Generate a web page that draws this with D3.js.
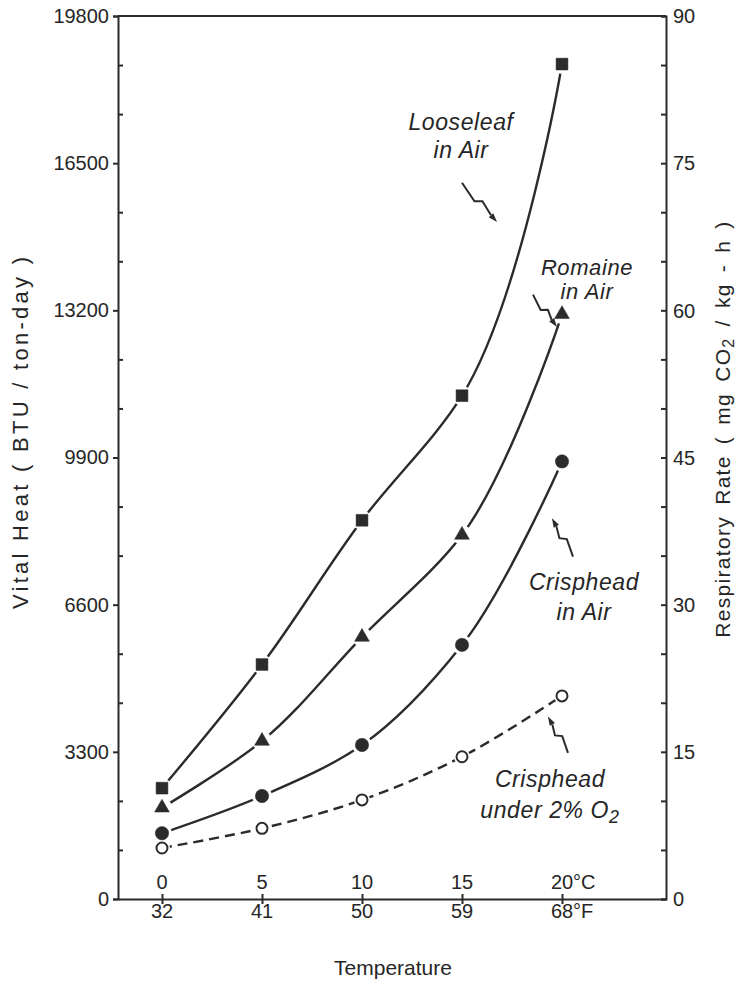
<!DOCTYPE html>
<html>
<head>
<meta charset="utf-8">
<script src="https://cdn.jsdelivr.net/npm/d3@7"></script>
<style>
    body { margin: 0; background: #fff; }
    svg { display: block; }
    text { font-family: "Liberation Sans", Arial, sans-serif; fill: #262626; }
</style>
</head>
<body>
<div id="plotSect"></div>
<script>
/* global d3 */

// data (respiratory rate, mg CO2 / kg-h)
let tempC = [0, 5, 10, 15, 20];
let tempF = [32, 41, 50, 59, 68];
let looseleafAir = [11.3, 23.9, 38.6, 51.3, 85.1];
let romaineAir = [9.3, 16.1, 26.7, 37.1, 59.6];
let crispheadAir = [6.7, 10.5, 15.7, 25.9, 44.6];
let crispheadLowO2 = [5.2, 7.2, 10.1, 14.5, 20.7];

let heatTicks = [0, 3300, 6600, 9900, 13200, 16500, 19800];
let rateTicks = [0, 15, 30, 45, 60, 75, 90];

let ink = "#2b2b2b";

let SVGwidth = 737,
    SVGheight = 981,
    margin = {top: 16, right: 71, bottom: 82, left: 118},
    width = SVGwidth - margin.left - margin.right,
    height = SVGheight - margin.top - margin.bottom;

let svg = d3.select("#plotSect").append("svg")
    .attr("width", SVGwidth)
    .attr("height", SVGheight)
    .append("g")
    .attr("transform", "translate(" + margin.left + "," + margin.top + ")");

let xScale = d3.scaleLinear().domain([-2.2, 25.2]).range([0, width]);
let yRate = d3.scaleLinear().domain([0, 90]).range([height, 0]);
let yHeat = d3.scaleLinear().domain([0, 19800]).range([height, 0]);

// frame
svg.append("line")
    .attr("x1", 0).attr("x2", width)
    .attr("y1", 0).attr("y2", 0)
    .style("stroke", ink).style("stroke-width", 2);

// left axis: major ticks out, minor ticks in
let leftAxis = svg.append("g")
    .attr("class", "yAxis")
    .call(d3.axisLeft(yHeat).tickValues(heatTicks).tickSize(5).tickPadding(4).tickFormat(d3.format("d")));
svg.append("g")
    .call(d3.axisRight(yHeat).tickValues(d3.range(1100, 19800, 1100).filter(function(v) { return v % 3300 != 0; }))
        .tickSize(5).tickFormat(""))
    .select(".domain").remove();

// right axis: all ticks point inward
let rightAxis = svg.append("g")
    .attr("class", "yAxis2")
    .attr("transform", "translate(" + width + ",0)")
    .call(d3.axisLeft(yRate).tickValues(d3.range(0, 91, 5)).tickSize(5).tickFormat(""));
rightAxis.selectAll(".rateLabel")
    .data(rateTicks)
    .enter().append("text")
    .attr("class", "rateLabel")
    .attr("x", 7)
    .attr("y", function(d) { return yRate(d); })
    .attr("dy", "0.36em")
    .style("font-size", "20px")
    .style("text-anchor", "start")
    .text(function(d) { return d; });

// bottom axis: ticks cross the line, Celsius above, Fahrenheit below
let xAxis = svg.append("g")
    .attr("class", "xAxis")
    .attr("transform", "translate(0," + height + ")")
    .call(d3.axisBottom(xScale).tickValues(tempC).tickSizeInner(5).tickSizeOuter(0).tickFormat(""));
xAxis.selectAll(".tick line").attr("y1", -5);

xAxis.selectAll(".cLabel")
    .data(tempC)
    .enter().append("text")
    .attr("class", "cLabel")
    .attr("x", function(d) { return xScale(d); })
    .attr("y", -10)
    .style("font-size", "20px")
    .style("text-anchor", "middle")
    .text(function(d) { return d; });

xAxis.selectAll(".fLabel")
    .data(tempF)
    .enter().append("text")
    .attr("class", "fLabel")
    .attr("x", function(d, i) { return xScale(tempC[i]); })
    .attr("y", 19)
    .style("font-size", "20px")
    .style("text-anchor", "middle")
    .text(function(d) { return d; });

// unit marks after the last labels
xAxis.append("text")
    .attr("x", xScale(tempC[tempC.length - 1]) + 11)
    .attr("y", -10)
    .style("font-size", "20px")
    .style("text-anchor", "start")
    .text("\u00b0C");
xAxis.append("text")
    .attr("x", xScale(tempC[tempC.length - 1]) + 11)
    .attr("y", 19)
    .style("font-size", "20px")
    .style("text-anchor", "start")
    .text("\u00b0F");

svg.selectAll(".domain, .tick line")
    .style("stroke", ink)
    .style("stroke-width", 2);
leftAxis.selectAll(".tick text")
    .style("font-size", "20px")
    .style("fill", "#262626")
    .style("font-family", "Liberation Sans, Arial, sans-serif");

// axis titles
svg.append("text")
    .attr("transform", "translate(" + (width / 2 + 1) + "," + (height + 76) + ")")
    .style("text-anchor", "middle")
    .style("font-size", "21px")
    .text("Temperature");

svg.append("text")
    .attr("transform", "translate(-90," + (433 - margin.top) + ") rotate(-90)")
    .style("text-anchor", "middle")
    .style("font-size", "22px")
    .attr("textLength", 352)
    .attr("lengthAdjust", "spacing")
    .text("Vital Heat ( BTU / ton-day )");

let rateTitle = svg.append("text")
    .attr("transform", "translate(" + (width + 64) + "," + (429 - margin.top) + ") rotate(-90)")
    .style("text-anchor", "middle")
    .style("font-size", "21px")
    .style("letter-spacing", "1.3px")
    .style("word-spacing", "4px");
rateTitle.append("tspan").text("Respiratory Rate ( mg CO");
rateTitle.append("tspan").attr("dy", 4).style("font-size", "16px").text("2");
rateTitle.append("tspan").attr("dy", -4).text(" / kg - h )");

// curves
let series = [
    {name: "looseleaf", values: looseleafAir, symbol: d3.symbolSquare, size: 140, filled: true, dashed: false},
    {name: "romaine", values: romaineAir, symbol: d3.symbolTriangle, size: 95, filled: true, dashed: false},
    {name: "crisphead", values: crispheadAir, symbol: d3.symbolCircle, size: 140, filled: true, dashed: false},
    {name: "crispheadO2", values: crispheadLowO2, symbol: d3.symbolCircle, size: 95, filled: false, dashed: true}
];

let line = d3.line()
    .x(function(d, i) { return xScale(tempC[i]); })
    .y(function(d) { return yRate(d); })
    .curve(d3.curveCatmullRom.alpha(1));

svg.selectAll(".curve")
    .data(series)
    .enter().append("path")
    .attr("class", "curve")
    .attr("d", function(s) { return line(s.values); })
    .style("fill", "none")
    .style("stroke", ink)
    .style("stroke-width", 2.4)
    .style("stroke-dasharray", function(s) { return s.dashed ? "10,6" : null; });

// white gap round each point
series.forEach(function(s) {
    svg.selectAll(".halo-" + s.name)
        .data(s.values)
        .enter().append("circle")
        .attr("class", "halo-" + s.name)
        .attr("cx", function(d, i) { return xScale(tempC[i]); })
        .attr("cy", function(d) { return yRate(d); })
        .attr("r", s.dashed ? 8 : 10)
        .style("fill", "#fff");
});

series.forEach(function(s) {
    svg.selectAll(".pt-" + s.name)
        .data(s.values)
        .enter().append("path")
        .attr("class", "pt-" + s.name)
        .attr("transform", function(d, i) { return "translate(" + xScale(tempC[i]) + "," + yRate(d) + ")"; })
        .attr("d", d3.symbol().type(s.symbol).size(s.size))
        .style("fill", s.filled ? ink : "#fff")
        .style("stroke", ink)
        .style("stroke-width", s.filled ? 0.5 : 2);
});

// labels, positioned in data units
let notes = [
    {lines: ["Looseleaf", "in Air"], t: 14.95, r: 78.4, gap: 28, size: 23},
    {lines: ["Romaine", "in Air"], t: 21.25, r: 63.6, gap: 24, size: 22},
    {lines: ["Crisphead", "in Air"], t: 21.1, r: 31.5, gap: 30, size: 23},
    {lines: ["Crisphead", "under 2% O"], t: 19.4, r: 11.4, gap: 31, size: 23}
];

notes.forEach(function(n) {
    let txt = svg.append("text")
        .attr("x", xScale(n.t))
        .attr("y", yRate(n.r))
        .style("text-anchor", "middle")
        .style("font-style", "italic")
        .style("font-size", n.size + "px")
        .style("letter-spacing", "0.6px");
    n.lines.forEach(function(l, i) {
        txt.append("tspan")
            .attr("x", xScale(n.t))
            .attr("dy", i == 0 ? 0 : n.gap)
            .text(l);
        if (l.indexOf("2%") > 0) {
            txt.append("tspan").attr("dy", 5).style("font-size", "18px").text("2");
        }
    });
});

// zigzag pointers
let pointers = [
    {from: [15.0, 73.0], to: [16.75, 69.0]},
    {from: [18.55, 61.6], to: [19.75, 58.3]},
    {from: [20.55, 34.9], to: [19.5, 38.8]},
    {from: [20.3, 14.9], to: [19.3, 18.6]}
];

pointers.forEach(function(p) {
    let x0 = xScale(p.from[0]), y0 = yRate(p.from[1]);
    let x1 = xScale(p.to[0]), y1 = yRate(p.to[1]);
    let len = Math.sqrt((x1 - x0) * (x1 - x0) + (y1 - y0) * (y1 - y0));
    let ux = (x1 - x0) / len, uy = (y1 - y0) / len;
    let nx = -uy, ny = ux;
    let ax = x0 + ux * len * 0.42 + nx * 3, ay = y0 + uy * len * 0.42 + ny * 3;
    let bx = x0 + ux * len * 0.52 - nx * 3, by = y0 + uy * len * 0.52 - ny * 3;
    let hx = x1 - ux * 9, hy = y1 - uy * 9;
    svg.append("path")
        .attr("d", "M" + x0 + "," + y0 + "L" + ax + "," + ay + "L" + bx + "," + by + "L" + hx + "," + hy)
        .style("fill", "none")
        .style("stroke", ink)
        .style("stroke-width", 2);
    svg.append("path")
        .attr("d", "M" + x1 + "," + y1 +
            "L" + (hx + nx * 3) + "," + (hy + ny * 3) +
            "L" + (hx - nx * 3) + "," + (hy - ny * 3) + "Z")
        .style("fill", ink);
});
</script>
</body>
</html>
